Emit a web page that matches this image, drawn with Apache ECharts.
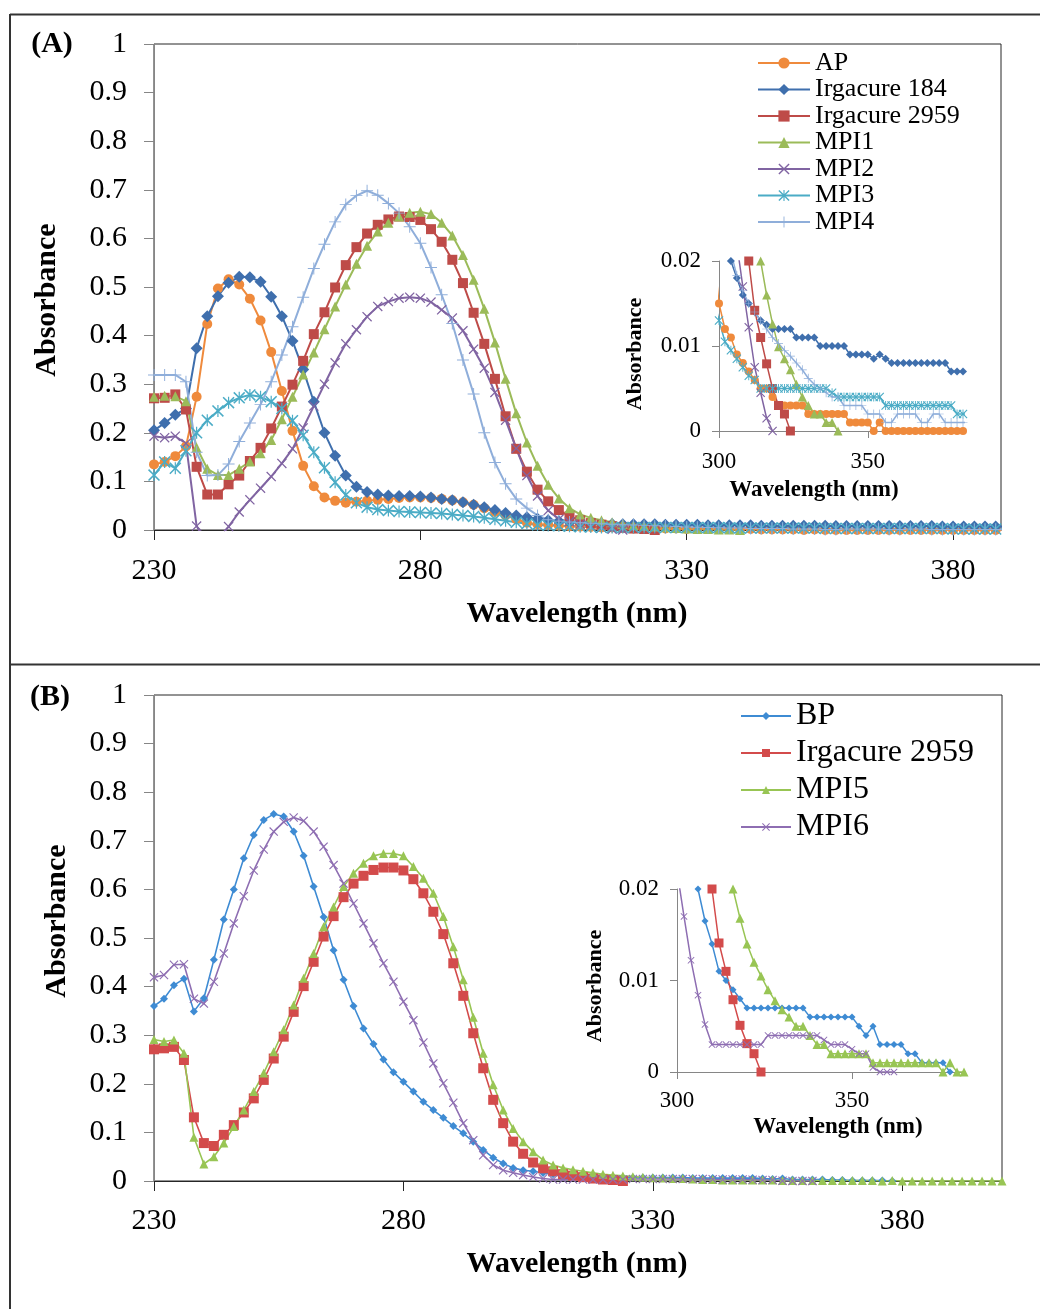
<!DOCTYPE html>
<html><head><meta charset="utf-8">
<script src="https://cdn.jsdelivr.net/npm/echarts@6/dist/echarts.min.js"></script>
<style>html,body{margin:0;padding:0;background:#fff}#c{width:1040px;height:1309px}</style>
</head><body><div id="c"></div>
<script>
// ---------- data ----------
const wlA = [230,232,234,236,238,240,242,244,246,248,250,252,254,256,258,260,262,264,266,268,270,272,274,276,278,280,282,284,286,288,290,292,294,296,298,300,302,304,306,308,310,312,314,316,318,320,322,324,326,328,330,332,334,336,338,340,342,344,346,348,350,352,354,356,358,360,362,364,366,368,370,372,374,376,378,380,382,384,386,388,390];
const wlB = [230,232,234,236,238,240,242,244,246,248,250,252,254,256,258,260,262,264,266,268,270,272,274,276,278,280,282,284,286,288,290,292,294,296,298,300,302,304,306,308,310,312,314,316,318,320,322,324,326,328,330,332,334,336,338,340,342,344,346,348,350,352,354,356,358,360,362,364,366,368,370,372,374,376,378,380,382,384,386,388,390,392,394,396,398,400];

const AP = [0.135,0.14,0.152,0.172,0.274,0.424,0.497,0.516,0.505,0.476,0.431,0.366,0.286,0.204,0.132,0.09,0.067,0.06,0.056,0.058,0.06,0.062,0.064,0.066,0.067,0.067,0.066,0.064,0.061,0.057,0.052,0.045,0.037,0.03,0.022,0.015,0.012,0.011,0.009,0.008,0.007,0.006,0.005,0.005,0.004,0.003,0.003,0.003,0.003,0.003,0.002,0.002,0.002,0.002,0.002,0.002,0.002,0.001,0.001,0.001,0.001,0,0.001,0,0,0,0,0,0,0,0,0,0,0,0,0,0,0,0,0,0];
const IRG184 = [0.205,0.22,0.237,0.25,0.374,0.44,0.481,0.509,0.521,0.52,0.511,0.48,0.44,0.389,0.33,0.264,0.2,0.153,0.112,0.089,0.078,0.073,0.071,0.07,0.07,0.069,0.067,0.064,0.061,0.057,0.052,0.047,0.041,0.035,0.03,0.026,0.023,0.02,0.018,0.016,0.015,0.014,0.013,0.0125,0.012,0.012,0.012,0.012,0.011,0.011,0.011,0.011,0.01,0.01,0.01,0.01,0.01,0.009,0.009,0.009,0.009,0.0085,0.009,0.0085,0.008,0.008,0.008,0.008,0.008,0.008,0.008,0.008,0.008,0.008,0.007,0.007,0.007,0.007,0.007,0.007,0.007];
const IRG2959A = [0.271,0.272,0.279,0.248,0.13,0.073,0.073,0.094,0.112,0.142,0.169,0.209,0.254,0.299,0.348,0.403,0.448,0.499,0.545,0.582,0.61,0.628,0.639,0.645,0.644,0.638,0.619,0.593,0.556,0.508,0.447,0.383,0.311,0.234,0.167,0.12,0.083,0.059,0.041,0.028,0.02,0.0142,0.011,0.0079,0.005,0.003,0.002,0];
const MPI1 = [0.274,0.276,0.275,0.265,0.17,0.126,0.113,0.113,0.126,0.141,0.158,0.185,0.228,0.274,0.32,0.365,0.413,0.46,0.505,0.548,0.585,0.614,0.632,0.645,0.653,0.655,0.65,0.632,0.606,0.566,0.515,0.455,0.386,0.311,0.24,0.18,0.132,0.093,0.065,0.045,0.032,0.025,0.02,0.016,0.0126,0.0099,0.0085,0.0072,0.0055,0.004,0.003,0.002,0.002,0.001,0.001,0];
const MPI2 = [0.193,0.19,0.193,0.178,0.008,-0.03,-0.02,0.007,0.037,0.062,0.086,0.11,0.137,0.167,0.21,0.255,0.3,0.344,0.383,0.412,0.439,0.46,0.47,0.477,0.479,0.477,0.469,0.453,0.436,0.41,0.372,0.333,0.283,0.226,0.168,0.112,0.07,0.04,0.022,0.017,0.0122,0.0075,0.0045,0.0015,0];
const MPI3 = [0.113,0.14,0.127,0.163,0.2,0.226,0.245,0.262,0.272,0.278,0.274,0.264,0.25,0.225,0.195,0.16,0.128,0.098,0.072,0.056,0.047,0.042,0.04,0.038,0.037,0.036,0.035,0.034,0.032,0.03,0.028,0.025,0.022,0.019,0.016,0.013,0.0105,0.0095,0.0085,0.0075,0.0065,0.006,0.005,0.005,0.005,0.005,0.005,0.005,0.005,0.005,0.005,0.005,0.005,0.005,0.0045,0.004,0.004,0.004,0.004,0.004,0.004,0.004,0.004,0.003,0.003,0.003,0.003,0.003,0.003,0.003,0.003,0.003,0.003,0.003,0.003,0.002,0.002,0.002,0.002,0.002,0.002];
const MPI4 = [0.319,0.319,0.319,0.305,0.16,0.112,0.113,0.136,0.182,0.22,0.258,0.305,0.36,0.418,0.479,0.538,0.588,0.634,0.67,0.688,0.698,0.689,0.672,0.652,0.624,0.59,0.54,0.484,0.425,0.35,0.28,0.2,0.139,0.095,0.064,0.045,0.03,0.021,0.0183,0.0165,0.015,0.014,0.013,0.012,0.011,0.0103,0.0095,0.0088,0.008,0.0072,0.0062,0.0055,0.005,0.0045,0.004,0.004,0.003,0.003,0.003,0.003,0.002,0.002,0.002,0.001,0.001,0.002,0.002,0.002,0.002,0.001,0.001,0.002,0.002,0.001,0.001,0.001,0.001,0.001,0.001,0.001,0.001];

const BP = [0.36,0.375,0.403,0.416,0.349,0.376,0.455,0.538,0.6,0.664,0.712,0.743,0.755,0.75,0.719,0.669,0.606,0.543,0.475,0.414,0.36,0.314,0.282,0.25,0.224,0.204,0.184,0.163,0.146,0.13,0.113,0.098,0.081,0.064,0.048,0.036,0.027,0.022,0.02,0.0165,0.014,0.011,0.01,0.009,0.008,0.007,0.007,0.007,0.007,0.007,0.007,0.007,0.007,0.007,0.006,0.006,0.006,0.006,0.006,0.006,0.006,0.005,0.004,0.005,0.003,0.003,0.003,0.003,0.002,0.002,0.001,0.001,0.001,0.001,0];
const IRG2959B = [0.271,0.273,0.276,0.249,0.131,0.078,0.072,0.095,0.115,0.141,0.17,0.208,0.252,0.297,0.348,0.401,0.451,0.503,0.545,0.584,0.612,0.628,0.64,0.645,0.645,0.639,0.621,0.592,0.554,0.508,0.448,0.381,0.304,0.232,0.167,0.119,0.081,0.056,0.038,0.026,0.02,0.0141,0.011,0.0079,0.0051,0.0031,0.002,0];
const MPI5 = [0.291,0.287,0.29,0.263,0.09,0.035,0.05,0.078,0.112,0.146,0.184,0.222,0.266,0.311,0.362,0.417,0.468,0.523,0.564,0.606,0.633,0.654,0.669,0.674,0.674,0.669,0.647,0.623,0.592,0.544,0.482,0.414,0.337,0.263,0.198,0.146,0.108,0.081,0.06,0.043,0.033,0.027,0.023,0.02,0.0168,0.014,0.012,0.0105,0.009,0.0078,0.0068,0.006,0.005,0.005,0.004,0.003,0.003,0.002,0.002,0.002,0.002,0.002,0.002,0.001,0.001,0.001,0.001,0.001,0.001,0.001,0.001,0.001,0.001,0,0.001,0,0,0,0,0,0,0,0,0,0,0];
const MPI6 = [0.419,0.424,0.445,0.446,0.375,0.365,0.41,0.468,0.53,0.586,0.639,0.682,0.719,0.739,0.748,0.741,0.719,0.688,0.65,0.612,0.571,0.53,0.489,0.448,0.41,0.369,0.331,0.285,0.242,0.201,0.161,0.119,0.084,0.053,0.033,0.022,0.017,0.0122,0.0084,0.0052,0.003,0.003,0.003,0.003,0.003,0.003,0.003,0.003,0.004,0.004,0.004,0.004,0.004,0.004,0.004,0.004,0.0035,0.003,0.003,0.003,0.0025,0.002,0.002,0.0005,0,0,0];

const mainXTicks = [230,280,330,380];
const insetXTicks = [300,350];
const legendA = ['AP','Irgacure 184','Irgacure 2959','MPI1','MPI2','MPI3','MPI4'];
const legendB = ['BP','B:Irgacure 2959','MPI5','MPI6'];

// ---------- style ----------
const FONT = '"Liberation Serif","Times New Roman",serif';
const SYM_X = 'path://M1.8,0 L10,8.2 L18.2,0 L20,1.8 L11.8,10 L20,18.2 L18.2,20 L10,11.8 L1.8,20 L0,18.2 L8.2,10 L0,1.8 Z';
const SYM_AST = 'path://M1.8,0 L10,8.2 L18.2,0 L20,1.8 L11.8,10 L20,18.2 L18.2,20 L10,11.8 L1.8,20 L0,18.2 L8.2,10 L0,1.8 Z M9,0 L11,0 L11,20 L9,20 Z';
const SYM_PLUS = 'path://M9.2,0 H10.8 V9.2 H20 V10.8 H10.8 V20 H9.2 V10.8 H0 V9.2 H9.2 Z';

function pts(wl, vals){ return vals.map((v,i)=>[wl[i], v]); }
function ser(name, xi, wl, vals, color, symbol, size, lw){
  return {type:'line', name, xAxisIndex:xi, yAxisIndex:xi, data:pts(wl, vals),
    symbol, symbolSize:size, showSymbol:true, showAllSymbol:true, clip:true, silent:true,
    lineStyle:{color, width:lw}, itemStyle:{color}, emphasis:{disabled:true}, animation:false};
}
function mainX(gi, max, margin){
  return {type:'value', gridIndex:gi, min:230, max,
    axisLine:{show:true, onZero:false, lineStyle:{color:'#262626', width:1}},
    axisTick:{show:true, length:10, customValues:mainXTicks, lineStyle:{color:'#262626'}},
    axisLabel:{show:true, customValues:mainXTicks, fontFamily:FONT, fontSize:30, color:'#000', margin},
    splitLine:{show:false}};
}
function mainY(gi){
  return {type:'value', gridIndex:gi, min:0, max:1, interval:0.1,
    axisLine:{show:true, onZero:false, lineStyle:{color:'#868686'}},
    axisTick:{show:true, length:10, lineStyle:{color:'#868686'}},
    axisLabel:{show:true, fontFamily:FONT, fontSize:30, color:'#000', margin:27},
    splitLine:{show:false}};
}
function insetX(gi, margin){
  return {type:'value', gridIndex:gi, min:300, max:382,
    axisLine:{show:true, onZero:false, lineStyle:{color:'#868686'}},
    axisTick:{show:true, length:7, customValues:insetXTicks, lineStyle:{color:'#868686'}},
    axisLabel:{show:true, customValues:insetXTicks, fontFamily:FONT, fontSize:23, color:'#000', margin},
    splitLine:{show:false}};
}
function insetY(gi){
  return {type:'value', gridIndex:gi, min:0, max:0.02, interval:0.01,
    axisLine:{show:true, onZero:false, lineStyle:{color:'#868686'}},
    axisTick:{show:true, length:7, lineStyle:{color:'#868686'}},
    axisLabel:{show:true, fontFamily:FONT, fontSize:23, color:'#000', margin:18},
    splitLine:{show:false}};
}
function txt(text, x, y, size, rot){
  return {type:'text', x, y, rotation:rot||0, silent:true,
    style:{text, font:'bold '+size+'px '+FONT, fill:'#000', align:'center', verticalAlign:'middle'}};
}
function ln(x1,y1,x2,y2){
  return {type:'line', silent:true, shape:{x1,y1,x2,y2}, style:{stroke:'#333', lineWidth:2}};
}

const C = {AP:'#EF8A3C', I184:'#3F6FAD', I2959A:'#BE4B48', M1:'#9BBB59', M2:'#8064A2', M3:'#4BACC6', M4:'#8FAEDA',
           BP:'#3E8BD3', I2959B:'#D34B4B', M5:'#98C554', M6:'#8E6EB2'};

const series = [
  ser('AP',0,wlA,AP,C.AP,'circle',10,2),
  ser('Irgacure 184',0,wlA,IRG184,C.I184,'diamond',12,2),
  ser('Irgacure 2959',0,wlA,IRG2959A,C.I2959A,'rect',10,2),
  ser('MPI1',0,wlA,MPI1,C.M1,'triangle',10,2),
  ser('MPI2',0,wlA,MPI2,C.M2,SYM_X,10,2),
  ser('MPI3',0,wlA,MPI3,C.M3,SYM_AST,12,2),
  ser('MPI4',0,wlA,MPI4,C.M4,SYM_PLUS,12,2),
  ser('BP',1,wlB,BP,C.BP,'diamond',8,1.6),
  ser('B:Irgacure 2959',1,wlB,IRG2959B,C.I2959B,'rect',10,1.6),
  ser('MPI5',1,wlB,MPI5,C.M5,'triangle',9,1.6),
  ser('MPI6',1,wlB,MPI6,C.M6,SYM_X,9,1.6),
  ser('iA-AP',2,wlA,AP,C.AP,'circle',8,1.5),
  ser('iA-184',2,wlA,IRG184,C.I184,'diamond',8,1.5),
  ser('iA-2959',2,wlA,IRG2959A,C.I2959A,'rect',9,1.5),
  ser('iA-M1',2,wlA,MPI1,C.M1,'triangle',9,1.5),
  ser('iA-M2',2,wlA,MPI2,C.M2,SYM_X,9,1.5),
  ser('iA-M3',2,wlA,MPI3,C.M3,SYM_AST,9,1.5),
  ser('iA-M4',2,wlA,MPI4,C.M4,SYM_PLUS,9,1.5),
  ser('iB-BP',3,wlB,BP,C.BP,'diamond',7,1.5),
  ser('iB-2959',3,wlB,IRG2959B,C.I2959B,'rect',9,1.5),
  ser('iB-M5',3,wlB,MPI5,C.M5,'triangle',9,1.5),
  ser('iB-M6',3,wlB,MPI6,C.M6,SYM_X,7,1.5)
];

const option = {
  backgroundColor:'#fff',
  animation:false,
  grid:[
    {left:154, top:44, width:847, height:486, show:true, borderColor:'#262626', borderWidth:1, containLabel:false, outerBoundsMode:'none'},
    {left:154, top:695, width:848, height:486, show:true, borderColor:'#262626', borderWidth:1, containLabel:false, outerBoundsMode:'none'},
    {left:719, top:261, width:244, height:170, show:false, containLabel:false, outerBoundsMode:'none'},
    {left:677, top:889, width:287, height:183, show:false, containLabel:false, outerBoundsMode:'none'}
  ],
  xAxis:[mainX(0,389,26), mainX(1,400,25), insetX(2,19), insetX(3,17)],
  yAxis:[mainY(0), mainY(1), insetY(2), insetY(3)],
  legend:[
    {data:legendA, orient:'vertical', left:757, top:50, padding:0, itemWidth:52, itemHeight:14, itemGap:0.5,
     selectedMode:false, textStyle:{fontFamily:FONT, fontSize:26, color:'#000'}},
    {data:legendB, orient:'vertical', left:740, top:700, padding:0, itemWidth:50, itemHeight:10, itemGap:5,
     selectedMode:false, formatter:n=>n.replace(/^B:/,''), textStyle:{fontFamily:FONT, fontSize:32, color:'#000'}}
  ],
  graphic:[
    ln(10,14.5,1040,14.5), ln(10,14,10,1309), ln(10,664.5,1040,664.5),
    txt('(A)',52,44,30), txt('(B)',50,697,30),
    txt('Absorbance',47,300,30,Math.PI/2), txt('Absorbance',57,921,30,Math.PI/2),
    txt('Wavelength (nm)',577,614,30), txt('Wavelength (nm)',577,1264,30),
    txt('Absorbance',635,354,22,Math.PI/2), txt('Wavelength (nm)',814,490,23),
    txt('Absorbance',595,986,22,Math.PI/2), txt('Wavelength (nm)',838,1127,23)
  ],
  series
};
const chart = echarts.init(document.getElementById('c'), null, {renderer:'canvas'});
chart.setOption(option);
</script></body></html>
